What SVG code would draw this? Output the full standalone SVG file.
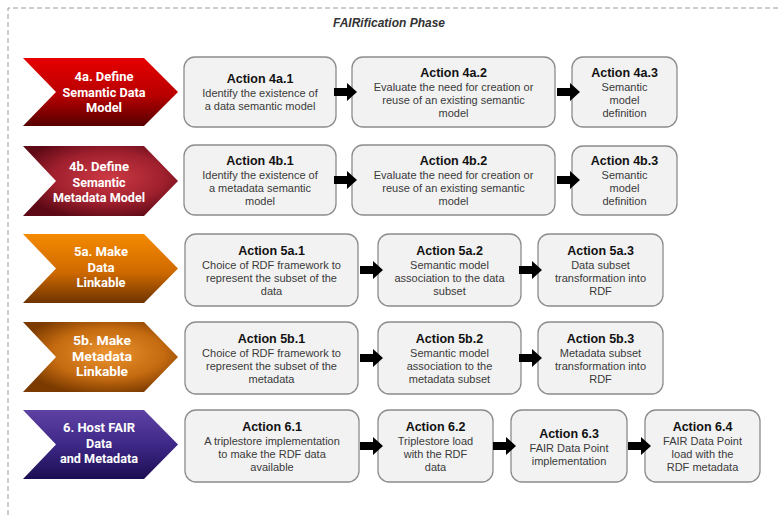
<svg xmlns="http://www.w3.org/2000/svg" width="779" height="515" viewBox="0 0 779 515">
<defs>
<linearGradient id="g4a" x1="0" y1="0" x2="0" y2="1"><stop offset="0" stop-color="#e60000"/><stop offset="0.55" stop-color="#b80000"/><stop offset="1" stop-color="#560000"/></linearGradient>
<radialGradient id="g4b" cx="0.55" cy="0.45" r="0.6"><stop offset="0" stop-color="#cc3a44"/><stop offset="0.6" stop-color="#a0202e"/><stop offset="1" stop-color="#5e0a16"/></radialGradient>
<linearGradient id="g5a" x1="0" y1="0" x2="0" y2="1"><stop offset="0" stop-color="#f48a00"/><stop offset="0.55" stop-color="#d06a00"/><stop offset="1" stop-color="#6e3400"/></linearGradient>
<radialGradient id="g5b" cx="0.55" cy="0.45" r="0.6"><stop offset="0" stop-color="#ec9430"/><stop offset="0.6" stop-color="#c46a10"/><stop offset="1" stop-color="#7a3a00"/></radialGradient>
<linearGradient id="g6" x1="0" y1="0" x2="0" y2="1"><stop offset="0" stop-color="#5e42a4"/><stop offset="0.5" stop-color="#3e2888"/><stop offset="1" stop-color="#1c0e52"/></linearGradient>
<path id="arr" d="M0,-4 H13 V-9 L23,0 L13,9 V4 H0 Z"/>
</defs>
<style>
.box{fill:#f2f2f2;stroke:#8c8c8c;stroke-width:1.3}
.t{font-family:"Liberation Sans",Arial,sans-serif;font-weight:bold;font-size:12.5px;fill:#111;text-anchor:middle}
.b{font-family:"Liberation Sans",Arial,sans-serif;font-size:11px;fill:#3a3a3a;text-anchor:middle}
.c{font-family:Roboto,"Liberation Sans",sans-serif;font-weight:bold;font-size:13px;fill:#ffffff;text-anchor:middle}
.arrow{fill:#000}
</style>
<rect width="779" height="515" fill="#ffffff"/>
<path d="M8,515 V8 H779" fill="none" stroke="#9a9a9a" stroke-width="1" stroke-dasharray="5,3"/>
<text x="389" y="27" style="font-family:'Liberation Sans',Arial,sans-serif;font-weight:bold;font-style:italic;font-size:12px;fill:#333" text-anchor="middle">FAIRification Phase</text>

<g id="phase4a">
<polygon points="23,58 144,58 178,92 144,126 23,126 56,92" fill="url(#g4a)"/>
<text class="c" x="104" y="81" textLength="59" lengthAdjust="spacingAndGlyphs">4a. Define</text>
<text class="c" x="104" y="96.5" textLength="83" lengthAdjust="spacingAndGlyphs">Semantic Data</text>
<text class="c" x="104" y="112" textLength="36" lengthAdjust="spacingAndGlyphs">Model</text>
</g>
<g id="phase4b">
<polygon points="23,146 144,146 178,181 144,216 23,216 56,181" fill="url(#g4b)"/>
<text class="c" x="99" y="171" textLength="60" lengthAdjust="spacingAndGlyphs">4b. Define</text>
<text class="c" x="99" y="186.5" textLength="53" lengthAdjust="spacingAndGlyphs">Semantic</text>
<text class="c" x="99" y="202" textLength="92" lengthAdjust="spacingAndGlyphs">Metadata Model</text>
</g>
<g id="phase5a">
<polygon points="23,234 144,234 178,268.5 144,303 23,303 56,268.5" fill="url(#g5a)"/>
<text class="c" x="101" y="256" textLength="54" lengthAdjust="spacingAndGlyphs">5a. Make</text>
<text class="c" x="101" y="271.5" textLength="27" lengthAdjust="spacingAndGlyphs">Data</text>
<text class="c" x="101" y="287" textLength="49" lengthAdjust="spacingAndGlyphs">Linkable</text>
</g>
<g id="phase5b">
<polygon points="23,322 144,322 178,357 144,392 23,392 56,357" fill="url(#g5b)"/>
<text class="c" x="102" y="345" textLength="58" lengthAdjust="spacingAndGlyphs">5b. Make</text>
<text class="c" x="102" y="360.5" textLength="60" lengthAdjust="spacingAndGlyphs">Metadata</text>
<text class="c" x="102" y="376" textLength="52" lengthAdjust="spacingAndGlyphs">Linkable</text>
</g>
<g id="phase6">
<polygon points="23,410 144,410 178,444.5 144,479 23,479 56,444.5" fill="url(#g6)"/>
<text class="c" x="99" y="432" textLength="72" lengthAdjust="spacingAndGlyphs">6. Host FAIR</text>
<text class="c" x="99" y="447.5" textLength="26" lengthAdjust="spacingAndGlyphs">Data</text>
<text class="c" x="99" y="463" textLength="78" lengthAdjust="spacingAndGlyphs">and Metadata</text>
</g>

<g id="a4a1"><rect class="box" x="184" y="57" width="152" height="70" rx="11"/>
<text class="t" x="260" y="83">Action 4a.1</text><text class="b" x="260" y="97">Identify the existence of</text><text class="b" x="260" y="110">a data semantic model</text></g>
<g id="a4a2"><rect class="box" x="352" y="57" width="203" height="70" rx="11"/>
<text class="t" x="453.5" y="77">Action 4a.2</text><text class="b" x="453.5" y="91">Evaluate the need for creation or</text><text class="b" x="453.5" y="104">reuse of an existing semantic</text><text class="b" x="453.5" y="117">model</text></g>
<g id="a4a3"><rect class="box" x="572" y="57" width="105" height="70" rx="11"/>
<text class="t" x="624.5" y="77">Action 4a.3</text><text class="b" x="624.5" y="91">Semantic</text><text class="b" x="624.5" y="104">model</text><text class="b" x="624.5" y="117">definition</text></g>

<g id="a4b1"><rect class="box" x="184" y="145" width="152" height="70" rx="11"/>
<text class="t" x="260" y="165">Action 4b.1</text><text class="b" x="260" y="179">Identify the existence of</text><text class="b" x="260" y="192">a metadata semantic</text><text class="b" x="260" y="205">model</text></g>
<g id="a4b2"><rect class="box" x="352" y="145" width="203" height="70" rx="11"/>
<text class="t" x="453.5" y="165">Action 4b.2</text><text class="b" x="453.5" y="179">Evaluate the need for creation or</text><text class="b" x="453.5" y="192">reuse of an existing semantic</text><text class="b" x="453.5" y="205">model</text></g>
<g id="a4b3"><rect class="box" x="572" y="146" width="105" height="69" rx="11"/>
<text class="t" x="624.5" y="165">Action 4b.3</text><text class="b" x="624.5" y="179">Semantic</text><text class="b" x="624.5" y="192">model</text><text class="b" x="624.5" y="205">definition</text></g>

<g id="a5a1"><rect class="box" x="185" y="234" width="173" height="72" rx="11"/>
<text class="t" x="271.5" y="255">Action 5a.1</text><text class="b" x="271.5" y="269">Choice of RDF framework to</text><text class="b" x="271.5" y="282">represent the subset of the</text><text class="b" x="271.5" y="295">data</text></g>
<g id="a5a2"><rect class="box" x="378" y="234" width="143" height="72" rx="11"/>
<text class="t" x="449.5" y="255">Action 5a.2</text><text class="b" x="449.5" y="269">Semantic model</text><text class="b" x="449.5" y="282">association to the data</text><text class="b" x="449.5" y="295">subset</text></g>
<g id="a5a3"><rect class="box" x="538" y="234" width="125" height="72" rx="11"/>
<text class="t" x="600.5" y="255">Action 5a.3</text><text class="b" x="600.5" y="269">Data subset</text><text class="b" x="600.5" y="282">transformation into</text><text class="b" x="600.5" y="295">RDF</text></g>

<g id="a5b1"><rect class="box" x="185" y="322" width="173" height="72" rx="11"/>
<text class="t" x="271.5" y="343">Action 5b.1</text><text class="b" x="271.5" y="357">Choice of RDF framework to</text><text class="b" x="271.5" y="370">represent the subset of the</text><text class="b" x="271.5" y="383">metadata</text></g>
<g id="a5b2"><rect class="box" x="378" y="322" width="143" height="72" rx="11"/>
<text class="t" x="449.5" y="343">Action 5b.2</text><text class="b" x="449.5" y="357">Semantic model</text><text class="b" x="449.5" y="370">association to the</text><text class="b" x="449.5" y="383">metadata subset</text></g>
<g id="a5b3"><rect class="box" x="538" y="322" width="125" height="72" rx="11"/>
<text class="t" x="600.5" y="343">Action 5b.3</text><text class="b" x="600.5" y="357">Metadata subset</text><text class="b" x="600.5" y="370">transformation into</text><text class="b" x="600.5" y="383">RDF</text></g>

<g id="a61"><rect class="box" x="185" y="410" width="174" height="72" rx="11"/>
<text class="t" x="272" y="431">Action 6.1</text><text class="b" x="272" y="445">A triplestore implementation</text><text class="b" x="272" y="458">to make the RDF data</text><text class="b" x="272" y="471">available</text></g>
<g id="a62"><rect class="box" x="378" y="410" width="115" height="72" rx="11"/>
<text class="t" x="435.5" y="431">Action 6.2</text><text class="b" x="435.5" y="445">Triplestore load</text><text class="b" x="435.5" y="458">with the RDF</text><text class="b" x="435.5" y="471">data</text></g>
<g id="a63"><rect class="box" x="511" y="410" width="116" height="72" rx="11"/>
<text class="t" x="569" y="438">Action 6.3</text><text class="b" x="569" y="452">FAIR Data Point</text><text class="b" x="569" y="465">implementation</text></g>
<g id="a64"><rect class="box" x="645" y="410" width="115" height="72" rx="11"/>
<text class="t" x="702.5" y="431">Action 6.4</text><text class="b" x="702.5" y="445">FAIR Data Point</text><text class="b" x="702.5" y="458">load with the</text><text class="b" x="702.5" y="471">RDF metadata</text></g>

<g id="connectors" class="arrow">
<use href="#arr" x="334" y="92"/>
<use href="#arr" x="557" y="92"/>
<use href="#arr" x="334" y="180"/>
<use href="#arr" x="557" y="180"/>
<use href="#arr" x="360" y="270"/>
<use href="#arr" x="519" y="270"/>
<use href="#arr" x="360" y="358"/>
<use href="#arr" x="519" y="358"/>
<use href="#arr" x="360" y="446"/>
<use href="#arr" x="493" y="446"/>
<use href="#arr" x="628" y="446"/>
</g>
</svg>
